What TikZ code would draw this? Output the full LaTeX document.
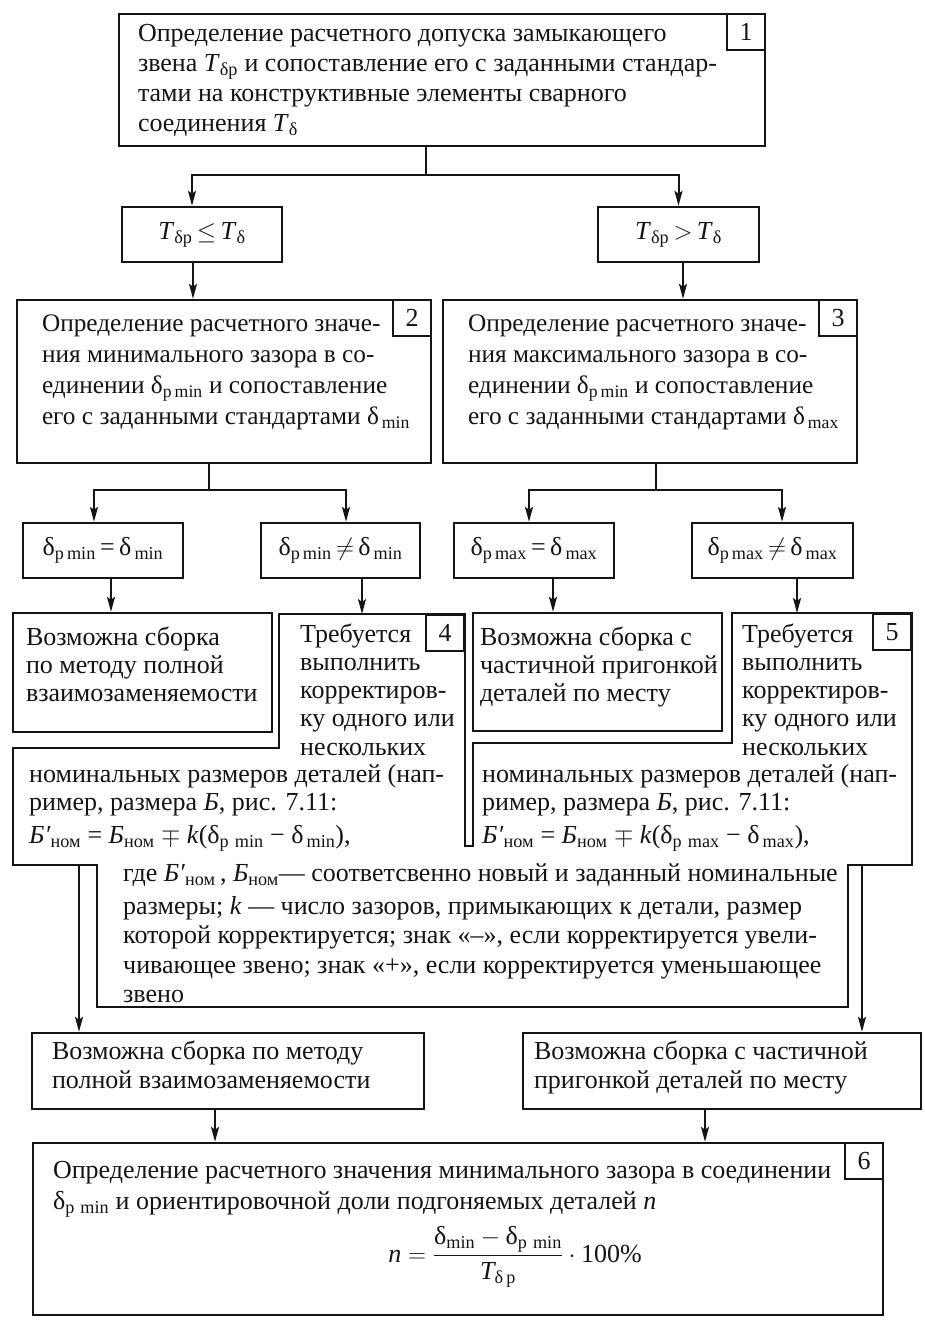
\documentclass[tikz,border=0pt]{standalone}
\usepackage{amsmath}
\usepackage{fontspec}
\setmainfont{Liberation Serif}
\usetikzlibrary{arrows.meta,positioning}
\definecolor{ink}{HTML}{141414}
\newcommand\lo[1]{\textsubscript{#1}}

\begin{document}
\begin{tikzpicture}[
  x=1pt,
  y=-1pt,
  box/.style={draw=ink, line width=2.4pt, inner sep=0pt, text=ink,
    font=\fontsize{26}{29}\selectfont},
  outline/.style={draw=ink, line width=2.4pt, line join=miter},
  numbox/.style={draw=ink, line width=2pt, anchor=north east, inner sep=0pt,
    minimum width=38pt, minimum height=36pt, text=ink,
    font=\fontsize{26}{29}\selectfont},
  txt/.style={anchor=north west, inner sep=0pt, align=left, text=ink,
    font=\fontsize{26}{#1}\selectfont},
  txt/.default=29,
  link/.style={draw=ink, line width=2pt},
  flow/.style={link, -{Stealth[length=15pt,width=8pt,inset=3pt]}}
]
  \useasboundingbox (0,0) rectangle (925,1328);

  % Top block.
  \node[box, minimum width=646pt, minimum height=132pt] (tol) at (442,80) {};
  \node[numbox] at (tol.north east) {1};
  \node[txt=30] at ([shift={(20,7)}]tol.north west)
    {\strut Определение расчетного допуска замыкающего\\
     звена \textit{T}\lo{δр} и сопоставление его с заданными стандар-\\
     тами на конструктивные элементы сварного\\
     соединения \textit{T}\lo{δ}};

  \node[box, minimum width=160pt, minimum height=55pt] (tle) at (202,234.5)
    {\textit{T}\lo{δр}\,$\leq$\,\textit{T}\lo{δ}};
  \node[box, minimum width=161pt, minimum height=55pt] (tgt) at (678.5,234.5)
    {\textit{T}\lo{δр}\,$>$\,\textit{T}\lo{δ}};

  % Gap checks.
  \node[box, minimum width=414pt, minimum height=163pt] (gmin) at (224,381.5) {};
  \node[numbox] at (gmin.north east) {2};
  \node[txt=31, font=\fontsize{25.3}{31}\selectfont] at ([shift={(26,11)}]gmin.north west)
    {\strut Определение расчетного значе-\\
     ния минимального зазора в со-\\
     единении δ\lo{p\,min} и сопоставление\\
     его с заданными стандартами δ\lo{\,min}};

  \node[box, minimum width=414pt, minimum height=163pt] (gmax) at (650,381.5) {};
  \node[numbox] at (gmax.north east) {3};
  \node[txt=31, font=\fontsize{25.3}{31}\selectfont] at ([shift={(26,11)}]gmax.north west)
    {\strut Определение расчетного значе-\\
     ния максимального зазора в со-\\
     единении δ\lo{p\,min} и сопоставление\\
     его с заданными стандартами δ\lo{\,max}};

  \node[box, minimum width=160pt, minimum height=55pt] (eqmin) at (103,550.5)
    {δ\lo{p\,min}\,=\,δ\lo{\,min}};
  \node[box, minimum width=159pt, minimum height=55pt] (nemin) at (340.5,550.5)
    {δ\lo{p\,min}\,$\neq$\,δ\lo{\,min}};
  \node[box, minimum width=160pt, minimum height=55pt] (eqmax) at (534,550.5)
    {δ\lo{p\,max}\,=\,δ\lo{\,max}};
  \node[box, minimum width=161pt, minimum height=55pt] (nemax) at (772.5,550.5)
    {δ\lo{p\,max}\,$\neq$\,δ\lo{\,max}};

  % Outcomes of the gap checks.
  \node[box, minimum width=259pt, minimum height=119pt] (fullA) at (142.5,672.5) {};
  \node[txt=28] at ([shift={(14,14)}]fullA.north west)
    {\strut Возможна сборка\\
     по методу полной\\
     взаимозаменяемости};
  \node[box, minimum width=249pt, minimum height=118pt] (partA) at (597.5,672) {};
  \node[txt=28] at ([shift={(8,14)}]partA.north west)
    {\strut Возможна сборка с\\
     частичной пригонкой\\
     деталей по месту};

  % Shared correction block 4/5.
  \draw[outline] (13,748) -- (279,748) -- (279,614) -- (465,614) -- (465,846)
    -- (473,846) -- (473,743) -- (732,743) -- (732,613) -- (912,613)
    -- (912,865) -- (848,865) -- (848,1007) -- (97,1007) -- (97,865)
    -- (13,865) -- cycle;
  \node[numbox] (n4) at (465,614) {4};
  \node[numbox] (n5) at (912,613) {5};
  \coordinate (in4) at (362,614);
  \coordinate (in5) at (797,613);
  \coordinate (out4) at (79,865);
  \coordinate (out5) at (862,865);

  \node[txt=28.3] at (300,622)
    {\strut Требуется\\ выполнить\\ корректиров-\\ ку одного или\\ нескольких};
  \node[txt=28] at (29,763)
    {\strut номинальных размеров деталей (нап-\\
     ример, размера \textit{Б}, рис. 7.11:\\[5pt]
     \textit{Б′}\lo{ном} = \textit{Б}\lo{ном} $\mp$ \textit{k}(δ\lo{p\,\,min} − δ\lo{\,min}),};
  \node[txt=28.3] at (742,622)
    {\strut Требуется\\ выполнить\\ корректиров-\\ ку одного или\\ нескольких};
  \node[txt=28] at (482,763)
    {\strut номинальных размеров деталей (нап-\\
     ример, размера \textit{Б}, рис. 7.11:\\[5pt]
     \textit{Б′}\lo{ном} = \textit{Б}\lo{ном} $\mp$ \textit{k}(δ\lo{p\,\,max} − δ\lo{\,max}),};
  \node[txt=29.5] at (123,861)
    {\strut где \textit{Б′}\lo{ном}\,, \textit{Б}\lo{ном}— соответсвенно новый и заданный номинальные\\[3pt]
     размеры; \textit{k} — число зазоров, примыкающих к детали, размер\\
     которой корректируется; знак «–», если корректируется увели-\\
     чивающее звено; знак «+», если корректируется уменьшающее\\
     звено};

  % Final assembly variants and estimate.
  \node[box, minimum width=392pt, minimum height=76pt] (fullB) at (228,1071) {};
  \node[txt=29] at ([shift={(21,7)}]fullB.north west)
    {\strut Возможна сборка по методу\\ полной взаимозаменяемости};
  \node[box, minimum width=398pt, minimum height=76pt] (partB) at (722,1071) {};
  \node[txt=29] at ([shift={(12,7)}]partB.north west)
    {\strut Возможна сборка с частичной\\ пригонкой деталей по месту};

  \node[box, minimum width=850pt, minimum height=172pt] (share) at (458,1229) {};
  \node[numbox] at (share.north east) {6};
  \node[txt=31] at ([shift={(21,15)}]share.north west)
    {\strut Определение расчетного значения минимального зазора в соединении\\
     δ\lo{p\,\,min} и ориентировочной доли подгоняемых деталей \textit{n}};
  \node[text=ink, inner sep=0pt, font=\fontsize{26}{29}\selectfont] (frm) at (515,1257)
    {$\textit{n}=\dfrac{\text{δ}_{\text{min}}-\text{δ}_{\text{p\,\,min}}}{\textit{T}_{\text{δ\,p}}}\cdot\text{100\%}$};

  % Connectors.
  \draw[link] ([xshift=-16pt]tol.south) -- ++(0,28) coordinate (fork1);
  \draw[flow] (fork1) -| ([xshift=-10pt]tle.north);
  \draw[flow] (fork1) -| (tgt.north);
  \draw[flow] ([xshift=-9pt]tle.south) -- ([xshift=-9pt]tle.south |- gmin.north);
  \draw[flow] ([xshift=4.5pt]tgt.south) -- ([xshift=4.5pt]tgt.south |- gmax.north);

  \draw[link] ([xshift=-15pt]gmin.south) -- ++(0,26) coordinate (fork2);
  \draw[flow] (fork2) -| ([xshift=-9pt]eqmin.north);
  \draw[flow] (fork2) -| ([xshift=5.5pt]nemin.north);
  \draw[link] ([xshift=6pt]gmax.south) -- ++(0,26) coordinate (fork3);
  \draw[flow] (fork3) -| ([xshift=-5pt]eqmax.north);
  \draw[flow] (fork3) -| ([xshift=9.5pt]nemax.north);

  \draw[flow] ([xshift=8pt]eqmin.south) -- ([xshift=8pt]eqmin.south |- fullA.north);
  \draw[flow] ([xshift=21.5pt]nemin.south) -- (in4);
  \draw[flow] ([xshift=19pt]eqmax.south) -- ([xshift=19pt]eqmax.south |- partA.north);
  \draw[flow] ([xshift=24.5pt]nemax.south) -- (in5);

  \draw[flow] (out4) -- (out4 |- fullB.north);
  \draw[flow] (out5) -- (out5 |- partB.north);
  \draw[flow] ([xshift=-13pt]fullB.south) -- ([xshift=-13pt]fullB.south |- share.north);
  \draw[flow] ([xshift=-17pt]partB.south) -- ([xshift=-17pt]partB.south |- share.north);
\end{tikzpicture}
\end{document}
